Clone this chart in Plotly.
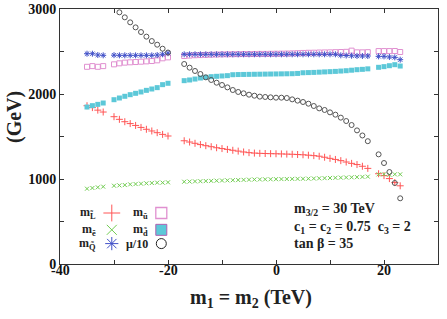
import plotly.graph_objects as go

# ---------------- data ----------------
x_vals = [-35, -34, -33, -32,
          -30, -29, -28, -27, -26, -25, -24, -23, -22, -21, -20,
          -17, -16, -15, -14, -13, -12, -11, -10, -9, -8, -7, -6, -5, -4, -3, -2, -1,
          0, 1, 2, 3, 4, 5, 6, 7, 8, 9, 10, 11, 12, 13, 14, 15, 16, 17,
          19, 20, 21, 22, 23]

m_L = [1862, 1840, 1810, 1788,
       1733, 1702, 1674, 1652, 1630, 1607, 1585, 1565, 1545, 1525, 1506,
       1450, 1435, 1420, 1405, 1392, 1380, 1368, 1358, 1348, 1338, 1328, 1318, 1310, 1305, 1302, 1300, 1298,
       1297, 1295, 1293, 1291, 1288, 1285, 1280, 1275, 1268, 1256, 1243, 1230, 1216, 1200, 1184, 1170, 1150, 1125,
       1062, 1040, 1005, 958, 920]

m_e = [886, 894, 902, 910,
       921, 925, 929, 937, 941, 945, 949, 953, 957, 957, 961,
       968, 970, 972, 974, 976, 978, 980, 982, 984, 986, 988, 990, 992, 994, 995, 996, 997,
       998, 999, 1000, 1001, 1002, 1003, 1004, 1006, 1008, 1010, 1012, 1014, 1016, 1018, 1020, 1022, 1025, 1028,
       1055, 1055, 1050, 1055, 1055]

m_Q = [2474, 2474, 2459, 2455,
       2457, 2455, 2455, 2455, 2455, 2455, 2455, 2455, 2458, 2467, 2480,
       2467, 2467, 2467, 2467, 2467, 2467, 2467, 2467, 2467, 2467, 2467, 2467, 2467, 2467, 2467, 2467, 2467,
       2467, 2467, 2467, 2467, 2467, 2467, 2467, 2467, 2467, 2467, 2467, 2467, 2455, 2453, 2450, 2448, 2447, 2447,
       2443, 2443, 2435, 2431, 2404]

m_u = [2320, 2328, 2320, 2328,
       2349, 2361, 2369, 2373, 2376, 2380, 2384, 2388, 2396, 2420, 2431,
       2447, 2452, 2456, 2458, 2460, 2462, 2464, 2466, 2467, 2468, 2469, 2470, 2470, 2471, 2472, 2472, 2473,
       2474, 2475, 2476, 2478, 2480, 2483, 2485, 2486, 2488, 2489, 2490, 2492, 2494, 2496, 2510, 2490, 2490, 2492,
       2505, 2505, 2505, 2506, 2494]

m_d = [1847, 1863, 1878, 1894,
       1933, 1953, 1973, 1992, 2008, 2024, 2043, 2059, 2075, 2110, 2126,
       2157, 2165, 2176, 2188, 2196, 2204, 2208, 2212, 2216, 2227, 2229, 2230, 2231, 2232, 2233, 2234, 2235,
       2236, 2237, 2238, 2239, 2242, 2250, 2252, 2254, 2257, 2260, 2263, 2266, 2270, 2274, 2280, 2286, 2290, 2296,
       2314, 2322, 2333, 2345, 2329]

x_mu = [-29, -28, -27, -26, -25, -24, -23, -22, -21, -20,
        -17, -16, -15, -14, -13, -12, -11, -10, -9, -8, -7, -6, -5, -4, -3, -2, -1,
        0, 1, 2, 3, 4, 5, 6, 7, 8, 9, 10, 11, 12, 13, 14, 15, 16, 17,
        19, 20, 21, 22, 23]
mu10 = [2961, 2902, 2843, 2784, 2729, 2675, 2623, 2580, 2533, 2488,
        2353, 2310, 2271, 2235, 2196, 2165, 2133, 2106, 2078, 2047, 2024, 2008, 1992, 1980, 1969, 1965, 1961,
        1957, 1957, 1953, 1937, 1922, 1906, 1886, 1859, 1831, 1812, 1784, 1757, 1722, 1682, 1635, 1572, 1512, 1445,
        1290, 1188, 1082, 953, 773]

x_ticks = [-40, -30, -20, -10, 0, 10, 20, 30]
x_labels = [-40, -20, 0, 20]
y_ticks = [0, 500, 1000, 1500, 2000, 2500, 3000]
y_tick_text = ["0", "", "1000", "", "2000", "", "3000"]

legend_labels = ["m<sub>L\u0303</sub>", "m<sub>e\u0303</sub>", "m<sub>Q\u0303</sub>",
                 "m<sub>u\u0303</sub>", "m<sub>d\u0303</sub>", "\u03bc/10"]

# ---------------- style ----------------
FONT = "Liberation Serif"
C_L = "#ff5555"
C_E = "#70cc50"
C_Q = "#4050c8"
C_U = "#e090d0"
C_D = "#5cc8d8"
C_MU = "#555555"

series = [
    (m_L, x_vals, dict(symbol="cross-thin", size=5, color=C_L, line=dict(color=C_L, width=1))),
    (m_e, x_vals, dict(symbol="x-thin", size=4, color=C_E, line=dict(color=C_E, width=1))),
    (m_u, x_vals, dict(symbol="square-open", size=5, color=C_U, line=dict(color=C_U, width=1))),
    (m_d, x_vals, dict(symbol="square", size=5, color=C_D, line=dict(color=C_D, width=0))),
    (m_Q, x_vals, dict(symbol="asterisk-open", size=5, color=C_Q, line=dict(color=C_Q, width=1))),
    (mu10, x_mu, dict(symbol="circle-open", size=5, color=C_MU, line=dict(color=C_MU, width=1))),
]

fig = go.Figure()
for yv, xv, mk in series:
    fig.add_trace(go.Scatter(x=xv, y=yv, mode="markers", marker=mk,
                             showlegend=False, cliponaxis=True))

# ---- legend keys (overlay axes in 0..1 frame) ----
key_x = [0.137, 0.137, 0.137, 0.268, 0.268, 0.268]
key_y = [0.200, 0.134, 0.080, 0.200, 0.134, 0.080]
key_styles = [
    dict(symbol="cross-thin", size=12, color=C_L, line=dict(color=C_L, width=1)),
    dict(symbol="x-thin", size=10, color=C_E, line=dict(color=C_E, width=1)),
    dict(symbol="asterisk-open", size=11, color=C_Q, line=dict(color=C_Q, width=1)),
    dict(symbol="square-open", size=11, color=C_U, line=dict(color=C_U, width=1.3)),
    dict(symbol="square", size=11, color=C_D, line=dict(color="#b060b0", width=1)),
    dict(symbol="circle-open", size=10, color="#222222", line=dict(color="#222222", width=1)),
]
for kx, ky, ks in zip(key_x, key_y, key_styles):
    fig.add_trace(go.Scatter(x=[kx], y=[ky], mode="markers", marker=ks,
                             xaxis="x2", yaxis="y2", showlegend=False))

text_x = [0.100, 0.100, 0.100, 0.238, 0.238, 0.238]
for tx, ty, lab in zip(text_x, key_y, legend_labels):
    fig.add_annotation(x=tx, y=ty, xref="paper", yref="paper", text="<b>" + lab + "</b>",
                       showarrow=False, xanchor="right", yanchor="middle",
                       font=dict(family=FONT, size=12, color="#222222"))

# ---- parameter annotation ----
ann_lines = ["m<sub>3/2</sub> = 30 TeV",
             "c<sub>1</sub> = c<sub>2</sub> = 0.75  c<sub>3</sub> = 2",
             "tan \u03b2 = 35"]
ann_y = [0.215, 0.145, 0.080]
for line, ay in zip(ann_lines, ann_y):
    fig.add_annotation(x=0.614, y=ay, xref="paper", yref="paper", text="<b>" + line + "</b>",
                       showarrow=False, xanchor="left", yanchor="middle",
                       font=dict(family=FONT, size=14, color="#222222"))

# ---- x tick labels (placed close to the axis) ----
for xv in x_labels:
    fig.add_annotation(x=xv, y=-0.027, xref="x", yref="paper", text="<b>%d</b>" % xv,
                       showarrow=False, xanchor="center", yanchor="middle",
                       font=dict(family=FONT, size=14, color="#111111"))

# ---- axis titles ----
fig.add_annotation(x=0.505, y=-0.135, xref="paper", yref="paper",
                   text="<b>m<sub>1</sub> = m<sub>2</sub> (TeV)</b>", showarrow=False,
                   xanchor="center", yanchor="middle",
                   font=dict(family=FONT, size=20, color="#222222"))
fig.add_annotation(x=-0.122, y=0.576, xref="paper", yref="paper",
                   text="<b>(GeV)</b>", showarrow=False, textangle=-90,
                   xanchor="center", yanchor="middle",
                   font=dict(family=FONT, size=20, color="#222222"))

axis_common = dict(showline=True, linecolor="#333333", linewidth=1, mirror="ticks",
                   ticks="inside", ticklen=4, tickcolor="#333333", showgrid=False,
                   zeroline=False, automargin=False,
                   tickfont=dict(family=FONT, size=14, color="#111111", weight="bold"))

fig.update_layout(
    width=447, height=319,
    margin=dict(l=60, r=9, t=9, b=55),
    paper_bgcolor="white", plot_bgcolor="white",
    xaxis=dict(range=[-40, 30], tickmode="array", tickvals=x_ticks,
               showticklabels=False, **axis_common),
    yaxis=dict(range=[0, 3000], tickmode="array", tickvals=y_ticks,
               ticktext=y_tick_text, **axis_common),
    xaxis2=dict(range=[0, 1], overlaying="x", visible=False, domain=[0, 1], automargin=False),
    yaxis2=dict(range=[0, 1], overlaying="y", visible=False, automargin=False),
)

# remove the browser's default 8 px page margin so the figure fills the window
fig.write_html("out.html", config={"displayModeBar": False},
               post_script="document.body.style.margin='0px';")
